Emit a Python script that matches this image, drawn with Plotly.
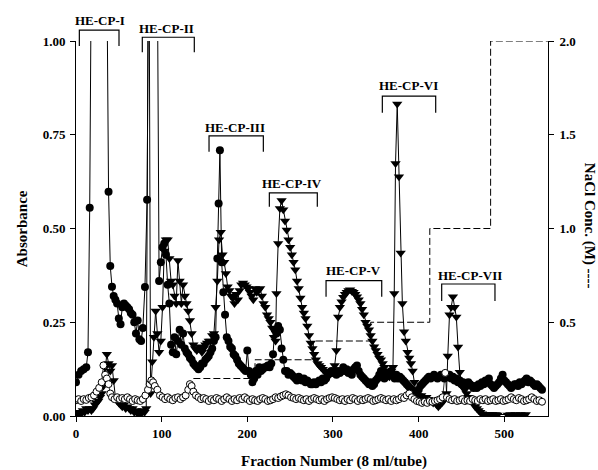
import plotly.graph_objects as go

# ---------------- data ----------------
# Filled circles
fc_frac = [0, 3, 6, 9, 12, 14, 16, 19, 23, 27, 31, 35, 38, 40, 42, 44, 46, 48, 50, 52,
           54, 56, 58, 60, 62, 64, 66, 68, 70, 72, 74, 76, 78, 80.5, 83, 86, 90, 94, 97, 99,
           101, 103, 105, 107, 109, 111, 113, 115, 117, 119, 121, 123, 125, 127, 129, 131, 133, 135, 137, 139,
           141, 143, 145, 147, 149, 151, 153, 155, 157, 159, 161, 163, 165, 166.5, 168, 170, 172, 174, 176, 178,
           180, 182, 184, 186, 188, 190, 192, 194, 196, 198, 200, 202, 204, 206, 208, 210, 212, 214, 216, 218,
           220, 222, 224, 226, 228, 230, 232, 234, 236, 238, 240, 242, 244, 246, 248, 250, 252, 254, 256, 258,
           260, 262, 264, 266, 268, 270, 272, 274, 276, 278, 280, 282, 284, 286, 288, 290, 292, 294, 296, 298,
           300, 302, 304, 306, 308, 310, 312, 314, 316, 318, 320, 322, 324, 326, 328, 330, 332, 334, 336, 338,
           340, 342, 344, 346, 348, 350, 352, 354, 356, 358, 360, 362, 364, 366, 368, 370, 372, 374, 376, 378,
           380, 382, 384, 386, 388, 390, 392, 394, 396, 398, 400, 402, 404, 406, 408, 410, 412, 414, 416, 418,
           420, 422, 424, 426, 428, 430, 432, 434, 436, 438, 440, 442, 444, 446, 448, 450, 452, 454, 456, 458,
           460, 462, 464, 466, 468, 470, 472, 474, 476, 478, 480, 482, 484, 486, 488, 490, 492, 494, 496, 498,
           500, 502, 504, 506, 508, 510, 512, 514, 516, 518, 520, 522, 524, 526, 528, 530, 532, 534, 536, 538,
           540, 542, 544]
fc_abs = [0.09, 0.11, 0.12, 0.125, 0.13, 0.17, 0.555, 1.6, 1.9, 2.0, 1.8, 1.5, 0.598, 0.40, 0.345, 0.32, 0.31, 0.30, 0.26, 0.245,
          0.29, 0.30, 0.295, 0.29, 0.285, 0.275, 0.27, 0.25, 0.22, 0.255, 0.205, 0.20, 0.235, 0.344, 0.577, 1.7, 1.9, 1.6, 0.36, 0.41,
          0.45, 0.46, 0.43, 0.35, 0.30, 0.19, 0.17, 0.21, 0.165, 0.20, 0.23, 0.19, 0.22, 0.18, 0.17, 0.165, 0.155, 0.15, 0.14, 0.135,
          0.13, 0.125, 0.13, 0.14, 0.14, 0.15, 0.155, 0.16, 0.17, 0.18, 0.20, 0.21, 0.42, 0.567, 0.709, 0.41, 0.33, 0.27, 0.21, 0.20,
          0.185, 0.18, 0.165, 0.16, 0.15, 0.14, 0.135, 0.13, 0.125, 0.12, 0.175, 0.12, 0.11, 0.09, 0.10, 0.12, 0.11, 0.13, 0.12, 0.125,
          0.13, 0.13, 0.135, 0.13, 0.14, 0.165, 0.23, 0.22, 0.24, 0.23, 0.18, 0.15, 0.12, 0.12, 0.11, 0.115, 0.11, 0.105, 0.10, 0.095,
          0.105, 0.10, 0.095, 0.10, 0.09, 0.095, 0.09, 0.085, 0.085, 0.09, 0.085, 0.09, 0.095, 0.09, 0.10, 0.095, 0.10, 0.11, 0.115, 0.12,
          0.115, 0.12, 0.11, 0.12, 0.115, 0.12, 0.13, 0.12, 0.125, 0.115, 0.12, 0.11, 0.125, 0.13, 0.135, 0.12, 0.11, 0.105, 0.10, 0.095,
          0.09, 0.085, 0.09, 0.08, 0.085, 0.095, 0.10, 0.11, 0.12, 0.11, 0.10, 0.105, 0.11, 0.115, 0.12, 0.11, 0.10, 0.11, 0.10, 0.105,
          0.10, 0.095, 0.09, 0.085, 0.08, 0.075, 0.07, 0.065, 0.06, 0.065, 0.07, 0.08, 0.085, 0.09, 0.095, 0.10, 0.105, 0.10, 0.105, 0.11,
          0.105, 0.10, 0.105, 0.11, 0.105, 0.10, 0.11, 0.105, 0.11, 0.10, 0.105, 0.095, 0.10, 0.09, 0.095, 0.085, 0.09, 0.08, 0.085, 0.09,
          0.085, 0.08, 0.075, 0.08, 0.075, 0.085, 0.08, 0.09, 0.085, 0.095, 0.09, 0.10, 0.085, 0.08, 0.075, 0.08, 0.085, 0.09, 0.10, 0.11,
          0.095, 0.09, 0.085, 0.08, 0.075, 0.08, 0.085, 0.085, 0.08, 0.09, 0.085, 0.09, 0.095, 0.10, 0.09, 0.095, 0.09, 0.085, 0.08, 0.085,
          0.08, 0.075, 0.07]

# Filled inverted triangles
tr_frac = [0, 2, 4, 6, 8, 10, 12, 14, 16, 18, 20, 22, 24, 26, 28, 30, 32, 34, 36, 38,
           40, 42, 44, 46, 48, 50, 52, 54, 56, 58, 60, 62, 64, 66, 68, 70, 72, 74, 76, 78,
           80, 82, 85, 87, 89, 91, 93, 95, 97, 99, 101, 103, 105, 107, 109, 111, 113, 115, 117, 119,
           121, 123, 125, 127, 129, 131, 133, 135, 137, 139, 141, 143, 145, 147, 149, 151, 153, 155, 157, 159,
           161, 163, 165, 167, 169, 171, 173, 175, 177, 179, 181, 183, 185, 187, 189, 191, 193, 195, 197, 199,
           201, 203, 205, 207, 209, 211, 213, 215, 217, 219, 221, 223, 225, 227, 229, 231, 233, 234, 236, 238,
           240, 242, 244, 246, 248, 250, 252, 254, 256, 258, 260, 262, 264, 266, 268, 270, 272, 274, 276, 278,
           280, 282, 284, 286, 288, 290, 292, 294, 296, 298, 300, 302, 304, 306, 308, 310, 312, 314, 316, 318,
           320, 322, 324, 326, 328, 330, 332, 334, 336, 338, 340, 342, 344, 346, 348, 350, 352, 354, 356, 358,
           360, 362, 364, 366, 368, 370, 371.5, 373, 375, 377, 379, 381, 383, 385, 387, 389, 391, 393, 395, 397,
           399, 401, 403, 405, 407, 409, 411, 413, 415, 417, 419, 421, 423, 425, 427, 429, 431, 432.5, 434, 436,
           438, 440, 442, 444, 446, 448, 450, 452, 454, 456, 458, 460, 462, 464, 466, 468, 470, 472, 474, 476,
           478, 480, 482, 484, 486, 488, 490, 492, 504, 507, 510, 513, 516, 519, 522, 525]
tr_abs = [0.004, 0.006, 0.01, 0.006, 0.015, 0.01, 0.02, 0.015, 0.02, 0.015, 0.02, 0.03, 0.035, 0.04, 0.05, 0.06, 0.08, 0.13, 0.165, 0.14,
          0.12, 0.135, 0.095, 0.05, 0.04, 0.035, 0.03, 0.025, 0.03, 0.02, 0.025, 0.02, 0.015, 0.02, 0.01, 0.015, 0.006, 0.01, 0.006, 0.015,
          0.01, 0.02, 1.5, 0.06, 0.145, 0.21, 0.28, 0.22, 0.17, 0.20, 0.29, 0.44, 0.47, 0.47, 0.42, 0.36, 0.35, 0.32, 0.30, 0.415,
          0.36, 0.30, 0.35, 0.32, 0.30, 0.28, 0.255, 0.22, 0.19, 0.18, 0.175, 0.18, 0.185, 0.17, 0.18, 0.19, 0.195, 0.20, 0.20, 0.215,
          0.22, 0.29, 0.36, 0.47, 0.49, 0.43, 0.41, 0.38, 0.345, 0.335, 0.32, 0.315, 0.30, 0.325, 0.31, 0.335, 0.35, 0.355, 0.35, 0.345,
          0.34, 0.33, 0.32, 0.31, 0.34, 0.33, 0.335, 0.34, 0.32, 0.30, 0.29, 0.27, 0.26, 0.25, 0.235, 0.21, 0.20, 0.327, 0.46, 0.553,
          0.575, 0.55, 0.52, 0.496, 0.47, 0.45, 0.43, 0.41, 0.39, 0.36, 0.34, 0.315, 0.29, 0.275, 0.26, 0.24, 0.215, 0.195, 0.18, 0.165,
          0.15, 0.14, 0.135, 0.13, 0.125, 0.12, 0.115, 0.11, 0.11, 0.115, 0.12, 0.135, 0.175, 0.264, 0.29, 0.305, 0.317, 0.325, 0.33, 0.335,
          0.337, 0.333, 0.33, 0.325, 0.318, 0.31, 0.30, 0.285, 0.27, 0.25, 0.24, 0.23, 0.215, 0.20, 0.185, 0.175, 0.165, 0.155, 0.15, 0.14,
          0.13, 0.12, 0.113, 0.105, 0.12, 0.13, 0.327, 0.673, 0.832, 0.638, 0.435, 0.30, 0.225, 0.20, 0.17, 0.155, 0.14, 0.12, 0.09, 0.06,
          0.055, 0.05, 0.055, 0.05, 0.045, 0.05, 0.045, 0.04, 0.04, 0.035, 0.04, 0.03, 0.025, 0.03, 0.035, 0.04, 0.05, 0.06, 0.16, 0.27,
          0.29, 0.318, 0.29, 0.264, 0.184, 0.117, 0.09, 0.075, 0.07, 0.06, 0.05, 0.045, 0.04, 0.035, 0.025, 0.02, 0.015, 0.01, 0.006, 0.004,
          0.004, 0.003, 0.004, 0.003, 0.004, 0.003, 0.004, 0.003, 0.003, 0.004, 0.003, 0.004, 0.003, 0.004, 0.003, 0.004]

# Open circles
oc_frac = [0, 3, 6, 9, 12, 15, 18, 21, 24, 27, 30, 32, 34, 36, 38, 40, 42, 45, 48, 51,
           54, 57, 60, 63, 66, 69, 72, 75, 78, 81, 84, 86, 88, 90, 92, 95, 98, 101, 104, 107,
           110, 113, 116, 119, 122, 125, 128, 131, 133, 135, 137, 140, 143, 146, 149, 152, 155, 158, 161, 164,
           167, 170, 173, 176, 179, 182, 185, 188, 191, 194, 197, 200, 203, 206, 209, 212, 215, 218, 221, 224,
           227, 230, 233, 236, 239, 242, 245, 248, 251, 254, 257, 260, 263, 266, 269, 272, 275, 278, 281, 284,
           287, 290, 293, 296, 299, 302, 305, 308, 311, 314, 317, 320, 323, 326, 329, 332, 335, 338, 341, 344,
           347, 350, 353, 356, 359, 362, 365, 368, 371, 374, 377, 380, 383, 386, 389, 392, 395, 398, 401, 404,
           407, 410, 413, 416, 419, 422, 425, 428, 431, 433, 436, 439, 442, 445, 448, 451, 454, 457, 460, 463,
           466, 469, 472, 475, 478, 481, 484, 487, 490, 493, 496, 499, 502, 505, 508, 511, 514, 517, 520, 523,
           526, 529, 532, 535, 538, 541, 544]
oc_abs = [0.042, 0.045, 0.04, 0.045, 0.043, 0.048, 0.05, 0.055, 0.065, 0.075, 0.09, 0.135, 0.11, 0.10, 0.085, 0.06, 0.05, 0.045, 0.05, 0.045,
          0.048, 0.045, 0.05, 0.045, 0.04, 0.045, 0.042, 0.04, 0.045, 0.055, 0.07, 0.085, 0.095, 0.09, 0.08, 0.07, 0.055, 0.05, 0.045, 0.05,
          0.045, 0.042, 0.048, 0.05, 0.045, 0.05, 0.055, 0.07, 0.085, 0.08, 0.065, 0.055, 0.05, 0.045, 0.048, 0.045, 0.04, 0.045, 0.042, 0.048,
          0.045, 0.04, 0.045, 0.05, 0.045, 0.04, 0.045, 0.042, 0.048, 0.045, 0.05, 0.045, 0.04, 0.045, 0.042, 0.04, 0.045, 0.048, 0.045, 0.04,
          0.042, 0.045, 0.05, 0.048, 0.052, 0.055, 0.058, 0.055, 0.05, 0.048, 0.045, 0.048, 0.045, 0.042, 0.045, 0.04, 0.045, 0.048, 0.045, 0.042,
          0.045, 0.04, 0.045, 0.048, 0.05, 0.048, 0.045, 0.042, 0.045, 0.04, 0.045, 0.042, 0.048, 0.045, 0.04, 0.045, 0.042, 0.045, 0.048, 0.045,
          0.04, 0.042, 0.045, 0.048, 0.045, 0.042, 0.045, 0.04, 0.045, 0.042, 0.045, 0.05, 0.048, 0.055, 0.06, 0.05, 0.045, 0.04, 0.038, 0.035,
          0.038, 0.035, 0.04, 0.038, 0.04, 0.042, 0.045, 0.05, 0.115, 0.05, 0.045, 0.042, 0.045, 0.04, 0.042, 0.045, 0.04, 0.042, 0.04, 0.045,
          0.042, 0.04, 0.045, 0.042, 0.045, 0.04, 0.042, 0.045, 0.04, 0.042, 0.045, 0.04, 0.042, 0.045, 0.05, 0.045, 0.042, 0.048, 0.045, 0.04,
          0.042, 0.045, 0.05, 0.045, 0.04, 0.042, 0.038]

# NaCl step gradient (right axis, M)
nacl_frac = [137, 209, 209, 277, 277, 344, 344, 413, 413, 484, 484, 551]
nacl_conc = [0.2, 0.2, 0.3, 0.3, 0.4, 0.4, 0.5, 0.5, 1.0, 1.0, 2.0, 2.0]

# Peak fraction pools
pool_labels = ["HE-CP-I", "HE-CP-II", "HE-CP-III", "HE-CP-IV", "HE-CP-V", "HE-CP-VI", "HE-CP-VII"]
pool_start = [3.9, 77.4, 155.3, 225.7, 291.9, 357.6, 426.9]
pool_end = [50.2, 138.1, 218.7, 281.7, 356.9, 419.9, 489.1]

x_ticks = [0, 100, 200, 300, 400, 500]
y_ticks = [0.0, 0.25, 0.5, 0.75, 1.0]
y2_ticks = [0.5, 1.0, 1.5, 2.0]

# ---------------- layout helpers (positions only) ----------------
bracket_top = [1.029, 1.010, 0.747, 0.595, 0.361, 0.853, 0.352]
bracket_bot = [0.987, 0.970, 0.705, 0.558, 0.318, 0.809, 0.307]
label_x = [28, 105.9, 185.6, 251.8, 323.7, 387.9, 460]
label_y = [1.054, 1.034, 0.769, 0.6205, 0.389, 0.881, 0.376]

FONT = "Liberation Serif"
BLACK = "black"

fig = go.Figure()

fig.add_trace(go.Scatter(
    x=nacl_frac, y=nacl_conc, yaxis="y2", mode="lines",
    line=dict(color=BLACK, width=1, dash="7px,3px"), showlegend=False, hoverinfo="skip"))

fig.add_trace(go.Scatter(
    x=fc_frac, y=fc_abs, mode="lines+markers",
    line=dict(color=BLACK, width=1),
    marker=dict(symbol="circle", size=8, color=BLACK, line=dict(width=0)),
    showlegend=False))

fig.add_trace(go.Scatter(
    x=tr_frac, y=tr_abs, mode="lines+markers",
    line=dict(color=BLACK, width=1),
    marker=dict(symbol="triangle-down", size=9, color=BLACK, line=dict(width=0)),
    showlegend=False))

fig.add_trace(go.Scatter(
    x=oc_frac, y=oc_abs, mode="lines+markers",
    line=dict(color=BLACK, width=0.8),
    marker=dict(symbol="circle", size=7, color="white", line=dict(width=1, color=BLACK)),
    showlegend=False))

shapes = []
annotations = []
for lab, x0, x1, yt, yb, lx, ly in zip(pool_labels, pool_start, pool_end, bracket_top, bracket_bot, label_x, label_y):
    shapes.append(dict(type="path", xref="x", yref="paper",
                       path=f"M {x0},{yb} L {x0},{yt} L {x1},{yt} L {x1},{yb}",
                       line=dict(color=BLACK, width=1.2)))
    annotations.append(dict(text=lab, xref="x", yref="paper", x=lx, y=ly, showarrow=False,
                            xanchor="center", yanchor="middle",
                            font=dict(family=FONT, size=13, color=BLACK, weight="bold")))

annotations.append(dict(text="Fraction Number (8 ml/tube)", xref="paper", yref="paper", x=0.5456, y=-0.12,
                        showarrow=False, xanchor="center", yanchor="middle",
                        font=dict(family=FONT, size=15, color=BLACK, weight="bold")))
annotations.append(dict(text="Absorbance", xref="paper", yref="paper", x=-0.115, y=0.5, textangle=-90,
                        showarrow=False, xanchor="center", yanchor="middle",
                        font=dict(family=FONT, size=15, color=BLACK, weight="bold")))
annotations.append(dict(text="NaCl Conc. (M) ----", xref="paper", yref="paper", x=1.087, y=0.507, textangle=90,
                        showarrow=False, xanchor="center", yanchor="middle",
                        font=dict(family=FONT, size=15, color=BLACK, weight="bold")))

tickfont = dict(family=FONT, size=13, color=BLACK, weight="bold")
fig.update_layout(
    width=598, height=470,
    margin=dict(l=76, r=50, t=41, b=54),
    paper_bgcolor="white", plot_bgcolor="white",
    showlegend=False,
    xaxis=dict(range=[0, 551], tickvals=x_ticks, ticks="outside", ticklen=5, tickwidth=1,
               tickcolor=BLACK, showline=True, linecolor=BLACK, linewidth=1, showgrid=False,
               zeroline=False, tickfont=tickfont),
    yaxis=dict(range=[0, 1.0], tickvals=y_ticks, tickformat=".2f", ticks="outside", ticklen=5,
               tickwidth=1, tickcolor=BLACK, showline=True, linecolor=BLACK, linewidth=1,
               showgrid=False, zeroline=False, tickfont=tickfont, ticklabelstandoff=2),
    yaxis2=dict(range=[0, 2.0], overlaying="y", side="right", tickvals=y2_ticks, tickformat=".1f",
                ticks="outside", ticklen=5, tickwidth=1, tickcolor=BLACK, showline=True,
                linecolor=BLACK, linewidth=1, showgrid=False, zeroline=False, tickfont=tickfont,
                ticklabelstandoff=3),
    shapes=shapes,
    annotations=annotations,
)

fig.write_html("out.html")
